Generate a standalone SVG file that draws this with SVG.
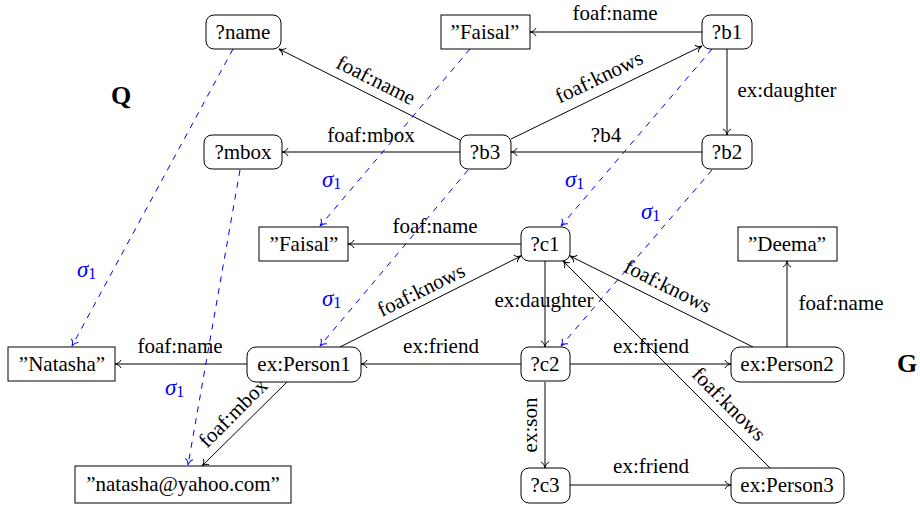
<svg xmlns="http://www.w3.org/2000/svg" width="920" height="505" viewBox="0 0 920 505">
<defs>
<marker id="ah" viewBox="-8 -5 9 10" refX="0" refY="0" markerWidth="9" markerHeight="10" markerUnits="userSpaceOnUse" orient="auto">
<path d="M-6,-4 C-5,-1.5 -2,-0.4 0,0 C-2,0.4 -5,1.5 -6,4" fill="none" stroke="#000" stroke-width="1"/>
</marker>
<marker id="ahb" viewBox="-8 -5 9 10" refX="0" refY="0" markerWidth="9" markerHeight="10" markerUnits="userSpaceOnUse" orient="auto">
<path d="M-6,-4 C-5,-1.5 -2,-0.4 0,0 C-2,0.4 -5,1.5 -6,4" fill="none" stroke="#0000ff" stroke-width="1"/>
</marker>
</defs>
<style>
text{font-family:"Liberation Serif","Times New Roman",serif;font-size:21px;fill:#000;text-anchor:middle}
.var{fill:#fff;stroke:#000;stroke-width:1}
.lit{fill:#fff;stroke:#000;stroke-width:1}
.e{fill:none;stroke:#000;stroke-width:1;marker-end:url(#ah)}
.m{fill:none;stroke:#0000ff;stroke-width:1;stroke-dasharray:6 6;marker-end:url(#ahb)}
.sig{fill:#0000ff;text-anchor:start;font-size:23px}
.sig tspan.s{font-style:italic}
.sig tspan.n{font-size:16px}
.big{font-weight:bold;font-size:26px}
</style>
<rect width="920" height="505" fill="#fff"/>
<g id="connectors">
<line class="e" x1="702" y1="32" x2="530" y2="32"/>
<line class="e" x1="727" y1="49" x2="727" y2="135"/>
<line class="e" x1="702" y1="152" x2="511" y2="152"/>
<line class="e" x1="511" y1="139" x2="702" y2="46"/>
<line class="e" x1="460" y1="140" x2="279" y2="49"/>
<line class="e" x1="460" y1="152" x2="282" y2="152"/>
<line class="e" x1="521" y1="244" x2="348" y2="244"/>
<line class="e" x1="545" y1="261" x2="545" y2="347"/>
<line class="e" x1="340" y1="347" x2="521" y2="256"/>
<line class="e" x1="753" y1="347" x2="570" y2="256"/>
<line class="e" x1="770" y1="468" x2="563" y2="261"/>
<line class="e" x1="787" y1="347" x2="787" y2="261"/>
<line class="e" x1="521" y1="364" x2="361" y2="364"/>
<line class="e" x1="570" y1="364" x2="731" y2="364"/>
<line class="e" x1="545" y1="382" x2="545" y2="468"/>
<line class="e" x1="570" y1="485" x2="731" y2="485"/>
<line class="e" x1="247" y1="364" x2="115" y2="364"/>
<line class="e" x1="287" y1="382" x2="202" y2="466"/>
<line class="m" x1="233" y1="49" x2="72" y2="346"/>
<line class="m" x1="240" y1="170" x2="188" y2="465"/>
<line class="m" x1="470" y1="49" x2="320" y2="226"/>
<line class="m" x1="468" y1="170" x2="320" y2="346"/>
<line class="m" x1="712" y1="49" x2="561" y2="226"/>
<line class="m" x1="712" y1="170" x2="561" y2="346"/>
<text x="615" y="20">foaf:name</text>
<text x="787" y="97">ex:daughter</text>
<text x="606" y="142">?b4</text>
<text x="371" y="142">foaf:mbox</text>
<g transform="translate(376,80) rotate(26.6)"><text x="0" y="7">foaf:name</text></g>
<g transform="translate(599,77) rotate(-25.8)"><text x="0" y="7">foaf:knows</text></g>
<text x="435" y="233">foaf:name</text>
<g transform="translate(421,290) rotate(-26.3)"><text x="0" y="7">foaf:knows</text></g>
<text x="544" y="307">ex:daughter</text>
<g transform="translate(668,286) rotate(26.5)"><text x="0" y="7">foaf:knows</text></g>
<text x="841" y="310">foaf:name</text>
<text x="441" y="353">ex:friend</text>
<text x="651" y="353">ex:friend</text>
<g transform="translate(530,425) rotate(-90)"><text x="0" y="7">ex:son</text></g>
<text x="651" y="473">ex:friend</text>
<g transform="translate(729,404) rotate(45)"><text x="0" y="7">foaf:knows</text></g>
<text x="180" y="353">foaf:name</text>
<g transform="translate(233,413) rotate(-45)"><text x="0" y="7">foaf:mbox</text></g>
<text class="sig" x="77" y="277"><tspan class="s">σ</tspan><tspan class="n" dy="2">1</tspan></text>
<text class="sig" x="165" y="395"><tspan class="s">σ</tspan><tspan class="n" dy="2">1</tspan></text>
<text class="sig" x="322" y="187"><tspan class="s">σ</tspan><tspan class="n" dy="2">1</tspan></text>
<text class="sig" x="322" y="306"><tspan class="s">σ</tspan><tspan class="n" dy="2">1</tspan></text>
<text class="sig" x="565" y="187"><tspan class="s">σ</tspan><tspan class="n" dy="2">1</tspan></text>
<text class="sig" x="641" y="219"><tspan class="s">σ</tspan><tspan class="n" dy="2">1</tspan></text>
</g>
<g id="n-name"><rect class="var" x="206" y="15" width="75" height="34" rx="8"/><text x="243" y="39">?name</text></g>
<g id="n-faisal1"><rect class="lit" x="441" y="15" width="89" height="34"/><text x="485" y="39">”Faisal”</text></g>
<g id="n-b1"><rect class="var" x="702" y="15" width="50" height="34" rx="8"/><text x="727" y="39">?b1</text></g>
<g id="n-mbox"><rect class="var" x="204" y="135" width="78" height="34" rx="8"/><text x="243" y="159">?mbox</text></g>
<g id="n-b3"><rect class="var" x="460" y="135" width="51" height="34" rx="8"/><text x="485" y="159">?b3</text></g>
<g id="n-b2"><rect class="var" x="702" y="135" width="50" height="34" rx="8"/><text x="727" y="159">?b2</text></g>
<g id="n-faisal2"><rect class="lit" x="259" y="227" width="89" height="34"/><text x="304" y="251">”Faisal”</text></g>
<g id="n-c1"><rect class="var" x="521" y="227" width="49" height="34" rx="8"/><text x="545" y="251">?c1</text></g>
<g id="n-deema"><rect class="lit" x="738" y="227" width="99" height="34"/><text x="787" y="251">”Deema”</text></g>
<g id="n-natasha"><rect class="lit" x="8" y="347" width="107" height="34"/><text x="62" y="371">”Natasha”</text></g>
<g id="n-person1"><rect class="var" x="247" y="347" width="114" height="35" rx="9"/><text x="304" y="371">ex:Person1</text></g>
<g id="n-c2"><rect class="var" x="521" y="347" width="49" height="34" rx="8"/><text x="545" y="371">?c2</text></g>
<g id="n-person2"><rect class="var" x="731" y="347" width="113" height="35" rx="9"/><text x="787" y="371">ex:Person2</text></g>
<g id="n-yahoo"><rect class="lit" x="75" y="466" width="216" height="37"/><text x="183" y="491">”natasha@yahoo.com”</text></g>
<g id="n-c3"><rect class="var" x="521" y="468" width="49" height="35" rx="8"/><text x="545" y="492">?c3</text></g>
<g id="n-person3"><rect class="var" x="731" y="468" width="113" height="35" rx="9"/><text x="787" y="492">ex:Person3</text></g>
<text class="big" x="121" y="104">Q</text>
<text class="big" x="907" y="372">G</text>
</svg>
